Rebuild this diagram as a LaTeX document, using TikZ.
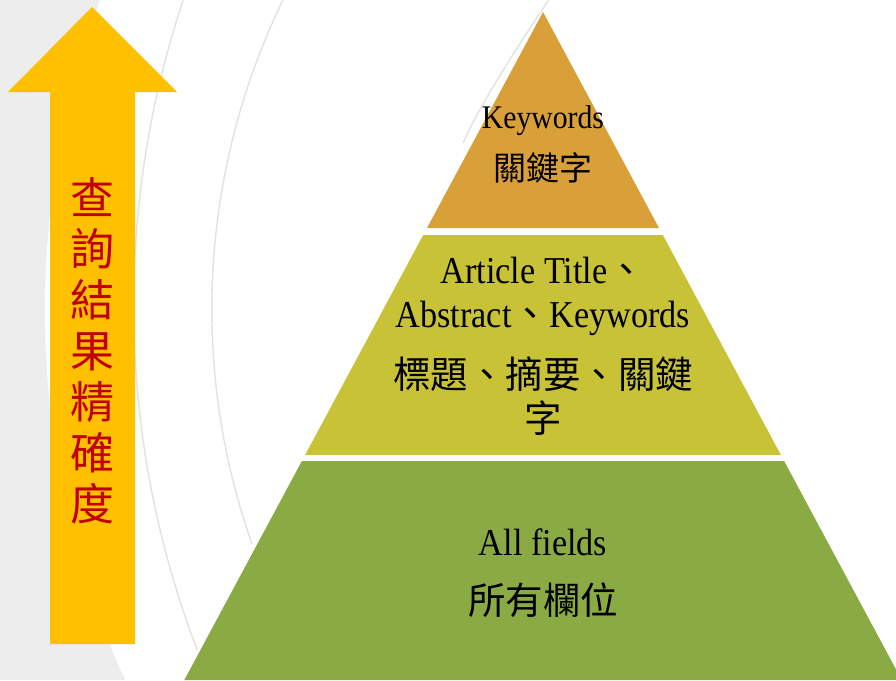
\documentclass[tikz,border=0pt]{standalone}
\usepackage{fontspec}
\setmainfont{Liberation Serif}[FakeStretch=0.9]
\newfontfamily\cjk{Noto Sans CJK TC}
\usepackage{tikz}
\usetikzlibrary{calc}
\definecolor{bggray}{HTML}{EDEDED}
\definecolor{wispgray}{HTML}{E2E2E2}
\definecolor{arrowgold}{HTML}{FFC000}
\definecolor{arrowred}{HTML}{C00000}
\definecolor{tierA}{HTML}{D9A03A}
\definecolor{tierB}{HTML}{C8C237}
\definecolor{tierC}{HTML}{8AAB43}
\tikzset{
  every node/.append style={inner sep=0pt, outer sep=0pt},
}
\tikzset{
  wisp/.style={draw=wispgray, line width=1.4pt},
  tierlabel/.style={anchor=base, align=center, text=black}
}

\begin{document}
\begin{tikzpicture}[
  x=1pt, y=-1pt,
  % --- tiers of the pyramid ---
  tiertop/.style={fill=tierA, draw=none},
  tiermid/.style={fill=tierB, draw=none},
  tierbot/.style={fill=tierC, draw=none},
  smalltxt/.style={tierlabel, font=\fontsize{33}{38}\selectfont},
  smallzh/.style={tierlabel, font=\fontsize{33}{38}\selectfont\cjk},
  bigtxt/.style={tierlabel, font=\fontsize{38}{44}\selectfont},
  bigzh/.style={tierlabel, font=\fontsize{37.5}{44}\selectfont\cjk},
  uptext/.style={align=center, text=arrowred, font=\fontsize{44}{51}\selectfont\cjk},
]
\clip (0,0) rectangle (896,680);

% --- Background ---
\fill[bggray] (0,0) rectangle (896,680);
\fill[white] (936,310) circle[radius=891pt];

% thin background curves
\draw[wisp] plot[domain=159.1:200, samples=80] ({1099.6+966*cos(\x)},{305.4+966*sin(\x)});
\draw[wisp] plot[domain=160.6:207, samples=80] ({918.5+706.7*cos(\x)},{309.1+706.7*sin(\x)});
\draw[wisp] (550,-2) .. controls (515,50) and (480,105) .. (463,143);

% --- Arrow (precision goes up) ---
\fill[arrowgold] (92,7) -- (177,92) -- (135,92) -- (135,644)
  -- (50,644) -- (50,92) -- (8,92) -- cycle;
\node[uptext] (precision) at (92,351) {查\\詢\\結\\果\\精\\確\\度};

% --- Pyramid ---
% apex (543,12), edges drop 0.537 per unit of height
\fill[tiertop] (543,12) -- (659,228) -- (427,228) -- cycle;
\fill[tiermid] (423.2,235) -- (662.8,235) -- (780.9,455) -- (305.1,455) -- cycle;
\fill[tierbot] (301.9,461) -- (784.1,461) -- (901.7,680) -- (184.3,680) -- cycle;

% Keywords tier
\node[smalltxt] (kwen) at (543,128) {Keywords};
\node[smallzh] (kwzh) at (543,180) {關鍵字};

% Title / abstract / keywords tier
\node[bigtxt] (tabken) at (543,283) {Article Title{\cjk 、}};
\node[bigtxt] (tabken2) at (543,327) {Abstract{\cjk 、}Keywords};
\node[bigzh] (tabkzh) at (543,388) {標題、摘要、關鍵};
\node[bigzh] (tabkzh2) at (543,432) {字};

% All fields tier
\node[bigtxt] (allen) at (543,555) {All fields};
\node[bigzh] (allzh) at (543,614) {所有欄位};

\end{tikzpicture}
\end{document}
